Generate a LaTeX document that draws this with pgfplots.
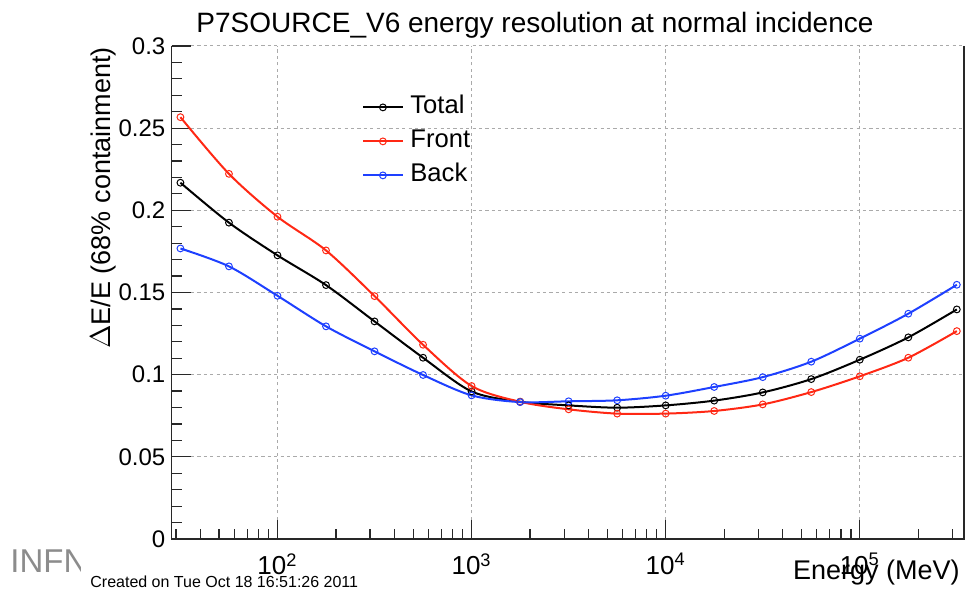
\documentclass[border=0pt]{standalone}
\usepackage{fontspec}
\setmainfont{Liberation Sans}
\usepackage{pgfplots}
\pgfplotsset{compat=1.18}
\definecolor{rootred}{RGB}{255,40,20}
\definecolor{rootblue}{RGB}{30,64,255}
\definecolor{axisgray}{RGB}{40,40,40}
\definecolor{gridgray}{RGB}{170,170,170}
\definecolor{infngray}{RGB}{140,140,140}
\begin{document}
\begin{tikzpicture}
\useasboundingbox (0pt,0pt) rectangle (482.5pt,299.5pt);
\begin{axis}[
  at={(85.85pt,30pt)}, anchor=south west,
  scale only axis, width=396.15pt, height=246.5pt,
  xmode=log,
  xmin=28.51, xmax=344350,
  ymin=0, ymax=0.3,
  xtick={100,1000,10000,100000},
  xticklabels={10\textsuperscript{2},10\textsuperscript{3},10\textsuperscript{4},10\textsuperscript{5}},
  minor xtick={30,40,50,60,70,80,90,200,300,400,500,600,700,800,900,2000,3000,4000,5000,6000,7000,8000,9000,20000,30000,40000,50000,60000,70000,80000,90000,200000,300000},
  ytick={0,0.05,0.1,0.15,0.2,0.25,0.3},
  minor ytick={0.01,0.02,0.03,0.04,0.06,0.07,0.08,0.09,0.11,0.12,0.13,0.14,0.16,0.17,0.18,0.19,0.21,0.22,0.23,0.24,0.26,0.27,0.28,0.29},
  tick pos=left, tick align=inside,
  major tick length=9.5pt, minor tick length=5pt,
  every tick/.style={axisgray, line width=0.6pt},
  grid=major,
  major grid style={gridgray, line width=0.5pt, dash pattern=on 1.6pt off 1.6pt},
  axis line style={draw=none},
  /pgf/number format/assume math mode=true,
  yticklabel style={/pgf/number format/fixed, /pgf/number format/precision=2, font=\fontsize{12}{14}\selectfont, inner sep=0pt, xshift=-3pt},
  xticklabel style={font=\fontsize{13}{15}\selectfont, inner sep=0pt, yshift=-7pt},
  legend cell align=left,
  legend image code/.code={\draw[mark repeat=2,mark phase=2] plot coordinates {(0pt,0pt)(9.75pt,0pt)(19.5pt,0pt)};},
  legend style={draw=none, fill=none, at={(rel axis cs:0.2402,0.9047)}, anchor=north west,
    inner sep=0pt, row sep=3pt, column sep=2.5pt,
    font=\fontsize{12.8}{15}\selectfont,
    nodes={text height=9pt, text depth=3pt, inner sep=1pt}},
  every axis plot/.append style={smooth, tension=0.5, line width=1pt, mark=o, mark size=1.7pt, mark options={solid, line width=0.5pt}},
  clip=false,
]
\addplot[black] coordinates {
(31.62,0.2168)(56.23,0.1925)(100,0.1726)(177.83,0.1545)(316.23,0.1324)(562.34,0.1103)
(1000,0.0898)(1778.28,0.0835)(3162.28,0.0813)(5623.41,0.0799)(10000,0.0813)(17782.8,0.0842)
(31622.8,0.0892)(56234.1,0.0973)(100000,0.1091)(177828,0.1227)(316228,0.1397)};
\addlegendentry{Total}
\addplot[rootred] coordinates {
(31.62,0.2567)(56.23,0.2222)(100,0.1961)(177.83,0.1756)(316.23,0.1478)(562.34,0.1182)
(1000,0.0931)(1778.28,0.0835)(3162.28,0.0789)(5623.41,0.0763)(10000,0.0763)(17782.8,0.0779)
(31622.8,0.0819)(56234.1,0.0894)(100000,0.0990)(177828,0.1103)(316228,0.1265)};
\addlegendentry{Front}
\addplot[rootblue] coordinates {
(31.62,0.1768)(56.23,0.1659)(100,0.1480)(177.83,0.1294)(316.23,0.1142)(562.34,0.0998)
(1000,0.0874)(1778.28,0.0833)(3162.28,0.0838)(5623.41,0.0844)(10000,0.0872)(17782.8,0.0925)
(31622.8,0.0985)(56234.1,0.1079)(100000,0.1219)(177828,0.1371)(316228,0.1547)};
\addlegendentry{Back}
\draw[axisgray, line width=0.6pt] (rel axis cs:0,1) -- (rel axis cs:0,0) -- (rel axis cs:1,0) -- (rel axis cs:1,1);
\end{axis}
\begin{scope}[x=0.5pt,y=0.5pt]
\begin{scope}
\clip (0,0) rectangle (80,599);
\node[anchor=base west, inner sep=0pt, text=infngray, font=\fontsize{16.5}{19}\selectfont] at (10,26.3) {INFN};
\end{scope}
\node[anchor=base, inner sep=0pt, font=\fontsize{14}{16}\selectfont] at (535,566) {P7SOURCE\_V6 energy resolution at normal incidence};
\node[rotate=90, anchor=base east, inner sep=0pt, font=\fontsize{13.5}{16}\selectfont] at (110,552) {$\Delta$E/E (68\% containment)};
\node[anchor=base east, inner sep=0pt, font=\fontsize{13.5}{16}\selectfont] at (960,19) {Energy (MeV)};
\node[anchor=base west, inner sep=0pt, font=\fontsize{8}{10}\selectfont] at (90,11.3) {Created on Tue Oct 18 16:51:26 2011};
\end{scope}
\end{tikzpicture}
\end{document}
